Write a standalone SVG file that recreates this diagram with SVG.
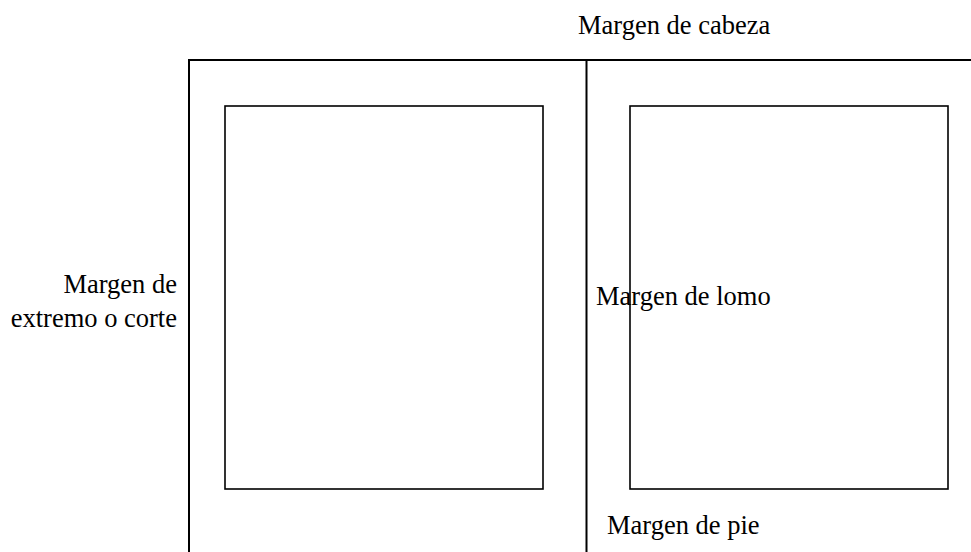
<svg xmlns="http://www.w3.org/2000/svg" width="971" height="552" viewBox="0 0 971 552">
<style>
.frame{fill:none;stroke:#000;stroke-width:2}
.box{fill:none;stroke:#000;stroke-width:1.6}
.lbl{font-family:"Liberation Serif","Times New Roman",serif;font-size:26.5px;fill:#000}
</style>
<rect width="971" height="552" fill="#fff"/>
<g id="page">
<rect class="frame" x="189" y="60" width="820" height="520"/>
<line class="frame" x1="586.5" y1="60" x2="586.5" y2="560"/>
</g>
<g id="left-text-block"><rect class="box" x="225" y="106" width="318" height="383"/></g>
<g id="right-text-block"><rect class="box" x="630" y="106" width="318" height="383"/></g>
<g id="labels">
<text class="lbl" x="578" y="34">Margen de cabeza</text>
<text class="lbl" x="177" y="293" text-anchor="end">Margen de</text>
<text class="lbl" x="177" y="327" text-anchor="end">extremo o corte</text>
<text class="lbl" x="596" y="305">Margen de lomo</text>
<text class="lbl" x="607" y="534">Margen de pie</text>
</g>
</svg>
